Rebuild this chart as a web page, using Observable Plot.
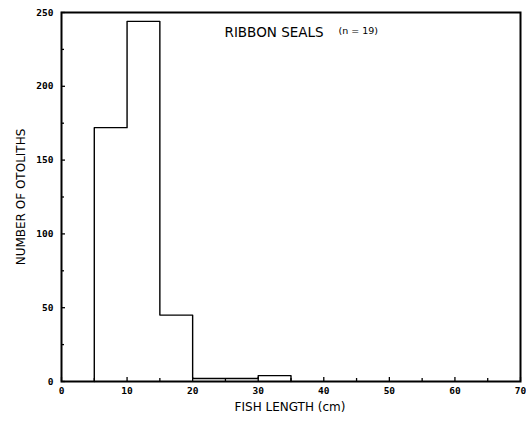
<!DOCTYPE html>
<html><head><meta charset="utf-8">
<script src="https://cdn.jsdelivr.net/npm/d3@7"></script>
<script src="https://cdn.jsdelivr.net/npm/@observablehq/plot@0.6"></script>
<style>
body{margin:0;background:#fff;}
</style>
</head><body>
<div id="chart"></div>
<script>
const binStart = [5, 10, 15, 20, 25, 30];
const binEnd   = [10, 15, 20, 25, 30, 35];
const counts   = [172, 244, 45, 2, 2, 4];
const xTicks = [0, 10, 20, 30, 40, 50, 60, 70];
const xMinor = [5, 15, 25, 35, 45, 55, 65];
const yTicks = [0, 50, 100, 150, 200, 250];
const yMinor = [25, 75, 125, 175, 225];
const title = "RIBBON SEALS";
const subtitle = "(n = 19)";

// histogram outline (step) built from the bins
const outline = [
  {x: binStart[0], y: 0},
  ...binStart.map((s, i) => ({x: s, y: counts[i]})),
  {x: binEnd[binEnd.length - 1], y: 0}
];
const tickFont = "'DejaVu Sans Mono', monospace";
const chart = Plot.plot({
  width: 526, height: 424,
  marginLeft: 61, marginRight: 6, marginTop: 12, marginBottom: 43,
  x: {domain: [0, 70]},
  y: {domain: [0, 250]},
  style: {fontFamily: "'DejaVu Sans', sans-serif", color: "black", background: "white"},
  marks: [
    Plot.line(outline, {x: "x", y: "y", curve: "step-after", stroke: "black", strokeWidth: 1.4}),
    Plot.axisX({ticks: xTicks, tickSize: -4, tickPadding: 10, fontSize: 9.5, fontWeight: "bold", fontFamily: tickFont, label: null, strokeWidth: 1.3}),
    Plot.axisX({ticks: xMinor, tickSize: -3, tickFormat: () => "", label: null, strokeWidth: 1.3}),
    Plot.axisY({ticks: yTicks, tickSize: -4, tickPadding: 12, fontSize: 9.5, fontWeight: "bold", fontFamily: tickFont, label: null, strokeWidth: 1.3}),
    Plot.axisY({ticks: yMinor, tickSize: -3, tickFormat: () => "", label: null, strokeWidth: 1.3}),
    Plot.frame({stroke: "black", strokeWidth: 2}),
    Plot.text([title], {frameAnchor: "top-left", dx: 163, dy: 15, text: d => d, fontSize: 13.5, textAnchor: "start", fill: "black", style: "letter-spacing:2px"}),
    Plot.text([subtitle], {frameAnchor: "top-left", dx: 277, dy: 15, text: d => d, fontSize: 9.5, textAnchor: "start", fill: "black"}),
    Plot.text(["FISH LENGTH (cm)"], {frameAnchor: "bottom", dy: 29, dx: -1, text: d => d, fontSize: 12, fill: "black", style: "letter-spacing:1.3px"}),
    Plot.text(["NUMBER OF OTOLITHS"], {frameAnchor: "left", dx: -40, dy: 0, rotate: -90, textAnchor: "middle", text: d => d, fontSize: 12, fill: "black", style: "letter-spacing:1.3px"})
  ]
});
document.getElementById("chart").appendChild(chart);
</script>
</body></html>
